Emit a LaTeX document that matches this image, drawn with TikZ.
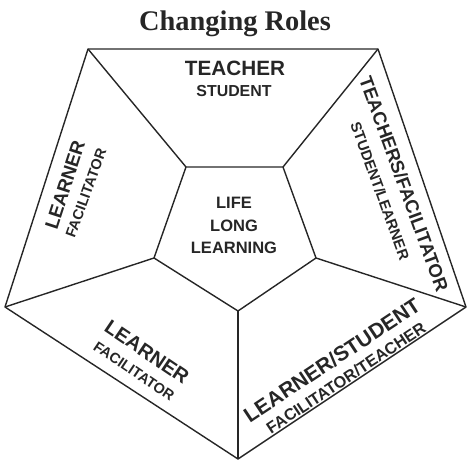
\documentclass[tikz,border=0pt]{standalone}
\usepackage{fontspec}
\setmainfont{Liberation Serif}
\newfontfamily\hv{Liberation Sans}
\begin{document}
\begin{tikzpicture}[x=1pt,y=-1pt,
  edge/.style={line width=1.4pt,draw=black!85,line join=round},
  lbl/.style={inner sep=0pt,text=black!85,font=\hv\bfseries},
  big/.style={lbl,font=\hv\bfseries\fontsize{#1}{#1}\selectfont},
]
\useasboundingbox (0,0) rectangle (469,462);
% outer pentagon
\coordinate (o1) at (88,49);
\coordinate (o2) at (378,49);
\coordinate (o3) at (466,307);
\coordinate (o4) at (238,459);
\coordinate (o5) at (5,307);
% inner pentagon
\coordinate (i1) at (186,167);
\coordinate (i2) at (283,167);
\coordinate (i3) at (316,258);
\coordinate (i4) at (238,311);
\coordinate (i5) at (154,258);
\draw[edge] (o1) -- (o2) -- (o3) -- (o4) -- (o5) -- cycle;
\draw[edge] (i1) -- (i2) -- (i3) -- (i4) -- (i5) -- cycle;
\draw[edge] (o1) -- (i1);
\draw[edge] (o2) -- (i2);
\draw[edge] (o3) -- (i3);
\draw[edge] (o4) -- (i4);
\draw[edge] (o5) -- (i5);
% title
\node[inner sep=0pt,text=black!85,font=\bfseries\fontsize{28.4}{30}\selectfont] (title) at (235,24) {Changing Roles};
% top panel
\node[big=20.7] (t1) at (235,68) {TEACHER};
\node[big=15.9] (t2) at (234,91) {STUDENT};
% center
\node[big=16.5] (c1) at (234,203) {LIFE};
\node[big=16.5] (c2) at (234,226) {LONG};
\node[big=16.5] (c3) at (234,248) {LEARNING};
% right panel
\node[big=18.6,rotate=-70] (r1) at (404,184) {TEACHERS/FACILITATOR};
\node[big=14.8,rotate=-70] (r2) at (380,191) {STUDENT/LEARNER};
% left panel
\node[big=19,rotate=72] (l1) at (65,185) {LEARNER};
\node[big=14.5,rotate=70] (l2) at (86,193) {FACILITATOR};
% bottom-left panel
\node[big=20,rotate=-34] (bl1) at (147,352) {LEARNER};
\node[big=14.5,rotate=-34] (bl2) at (134,371) {FACILITATOR};
% bottom-right panel
\node[big=21,rotate=33.5] (br1) at (332,360) {LEARNER/STUDENT};
\node[big=16.2,rotate=33.5] (br2) at (346,378) {FACILITATOR/TEACHER};
\end{tikzpicture}
\end{document}
